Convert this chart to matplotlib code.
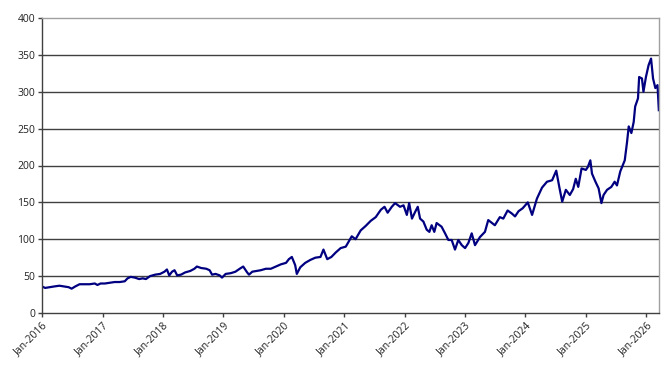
import matplotlib
matplotlib.use("Agg")
import matplotlib.pyplot as plt
import matplotlib.dates as mdates
import pandas as pd

plt.rcParams['font.family'] = ['Open Sans', 'DejaVu Sans']

dates = [
    "2016-01-01", "2016-01-20", "2016-02-15", "2016-03-15", "2016-04-15", "2016-05-15",
    "2016-06-10", "2016-06-28", "2016-07-20", "2016-08-15", "2016-09-15", "2016-10-15",
    "2016-11-15", "2016-12-01", "2016-12-20",
    "2017-01-15", "2017-02-15", "2017-03-15", "2017-04-15", "2017-05-15", "2017-06-01",
    "2017-06-20", "2017-07-15", "2017-08-10", "2017-09-01", "2017-09-20", "2017-10-15",
    "2017-11-15", "2017-12-15",
    "2018-01-10", "2018-01-25", "2018-02-08", "2018-02-25", "2018-03-12", "2018-03-28",
    "2018-04-20", "2018-05-15", "2018-06-15", "2018-07-10", "2018-07-25", "2018-08-20",
    "2018-09-20", "2018-10-10", "2018-10-25", "2018-11-15", "2018-12-10", "2018-12-24",
    "2019-01-15", "2019-02-15", "2019-03-15", "2019-04-10", "2019-05-01", "2019-05-25",
    "2019-06-05", "2019-06-25", "2019-07-20", "2019-08-15", "2019-09-15", "2019-10-15",
    "2019-11-15", "2019-12-15",
    "2020-01-15", "2020-02-01", "2020-02-19", "2020-03-10", "2020-03-20", "2020-04-10",
    "2020-05-10", "2020-06-10", "2020-07-10", "2020-08-10", "2020-08-28", "2020-09-20",
    "2020-10-15", "2020-11-10", "2020-12-10",
    "2021-01-10", "2021-02-15", "2021-03-10", "2021-04-10", "2021-05-10", "2021-06-10",
    "2021-07-10", "2021-08-10", "2021-09-01", "2021-09-20", "2021-10-15", "2021-11-04",
    "2021-12-04", "2021-12-25",
    "2022-01-14", "2022-01-28", "2022-02-14", "2022-03-05", "2022-03-21", "2022-04-04",
    "2022-04-24", "2022-05-14", "2022-05-30", "2022-06-13", "2022-06-29", "2022-07-13",
    "2022-08-12", "2022-09-02", "2022-09-22", "2022-10-12", "2022-11-01", "2022-11-21",
    "2022-12-12",
    "2023-01-01", "2023-01-21", "2023-02-10", "2023-03-02", "2023-04-01", "2023-05-01",
    "2023-05-21", "2023-06-30", "2023-07-30", "2023-08-20", "2023-09-15", "2023-10-10",
    "2023-10-30", "2023-11-20", "2023-12-15",
    "2024-01-15", "2024-02-10", "2024-03-10", "2024-04-10", "2024-05-10", "2024-06-10",
    "2024-07-05", "2024-07-25", "2024-08-10", "2024-09-01", "2024-09-25", "2024-10-15",
    "2024-10-31", "2024-11-15", "2024-12-05", "2024-12-31",
    "2025-01-12", "2025-01-27", "2025-02-06", "2025-02-27", "2025-03-18", "2025-04-04",
    "2025-04-17", "2025-05-08", "2025-06-03", "2025-06-23", "2025-07-07", "2025-07-27",
    "2025-08-23", "2025-09-06", "2025-09-16", "2025-10-02", "2025-10-16", "2025-10-25",
    "2025-11-11", "2025-11-18", "2025-12-05", "2025-12-14", "2025-12-29",
    "2026-01-14", "2026-01-29", "2026-02-10", "2026-02-24", "2026-03-09", "2026-03-17",
]

values = [
    36, 34, 35, 36, 37, 36,
    35, 33, 36, 39, 39, 39,
    40, 38, 40,
    40, 41, 42, 42, 43, 47,
    49, 48, 46, 47, 46, 50,
    52, 53,
    56, 59, 51, 56, 58, 51,
    52, 55, 57, 60, 63, 61,
    60, 58, 52, 53, 51, 48,
    53, 54, 56, 60, 63, 55,
    52, 56, 57, 58, 60, 60,
    63, 66,
    68, 73, 76, 65, 53, 62,
    68, 72, 75, 76, 86, 73,
    76, 82, 88,
    90, 104, 100, 112, 118, 125,
    130, 140, 144, 136, 144, 149,
    144, 146,
    133, 149, 128, 137, 144, 128,
    124, 113, 110, 119, 110, 122,
    117, 108, 99, 99, 86, 99,
    92,
    88, 95, 108, 92, 103, 110,
    126, 119, 130, 128, 139, 135,
    131, 138, 142,
    150, 133, 155, 170, 178, 180,
    193, 169, 151, 167, 160, 168,
    182, 171, 196, 194,
    198, 207, 189, 178, 169, 149,
    160, 167, 171, 178, 173, 192,
    207, 232, 253, 244, 259, 280,
    291, 320, 318, 300, 320,
    336, 345, 318, 305, 309, 275,
]

y_ticks = [0, 50, 100, 150, 200, 250, 300, 350, 400]
x_tick_years = list(range(2016, 2027))

x = pd.to_datetime(dates)

fig = plt.figure(figsize=(6.71, 3.69), dpi=100)
ax = fig.add_axes([42 / 671, 1 - 313 / 369, (659 - 42) / 671, (313 - 18) / 369])

ax.plot(x, values, color="#000080", linewidth=1.6)

ax.set_ylim(0, 400)
ax.set_yticks(y_ticks)
ax.set_xlim(pd.Timestamp("2016-01-01"), pd.Timestamp("2026-03-18"))
ax.set_xticks([pd.Timestamp(f"{y}-01-01") for y in x_tick_years])
ax.xaxis.set_major_formatter(mdates.DateFormatter("%b-%Y"))

for t in y_ticks[1:-1]:
    ax.axhline(t, color="#404040", linewidth=1.0, zorder=0)

for side in ["top", "right"]:
    ax.spines[side].set_color("#a0a0a0")
    ax.spines[side].set_linewidth(1.0)
for side in ["left", "bottom"]:
    ax.spines[side].set_color("#404040")
    ax.spines[side].set_linewidth(1.0)

ax.tick_params(axis="both", direction="out", length=3, width=1, color="#404040",
               labelsize=7.5, labelcolor="#222222", pad=2)
plt.setp(ax.get_xticklabels(), rotation=45, ha="right", rotation_mode="anchor")

fig.savefig("out.png", dpi=100)
